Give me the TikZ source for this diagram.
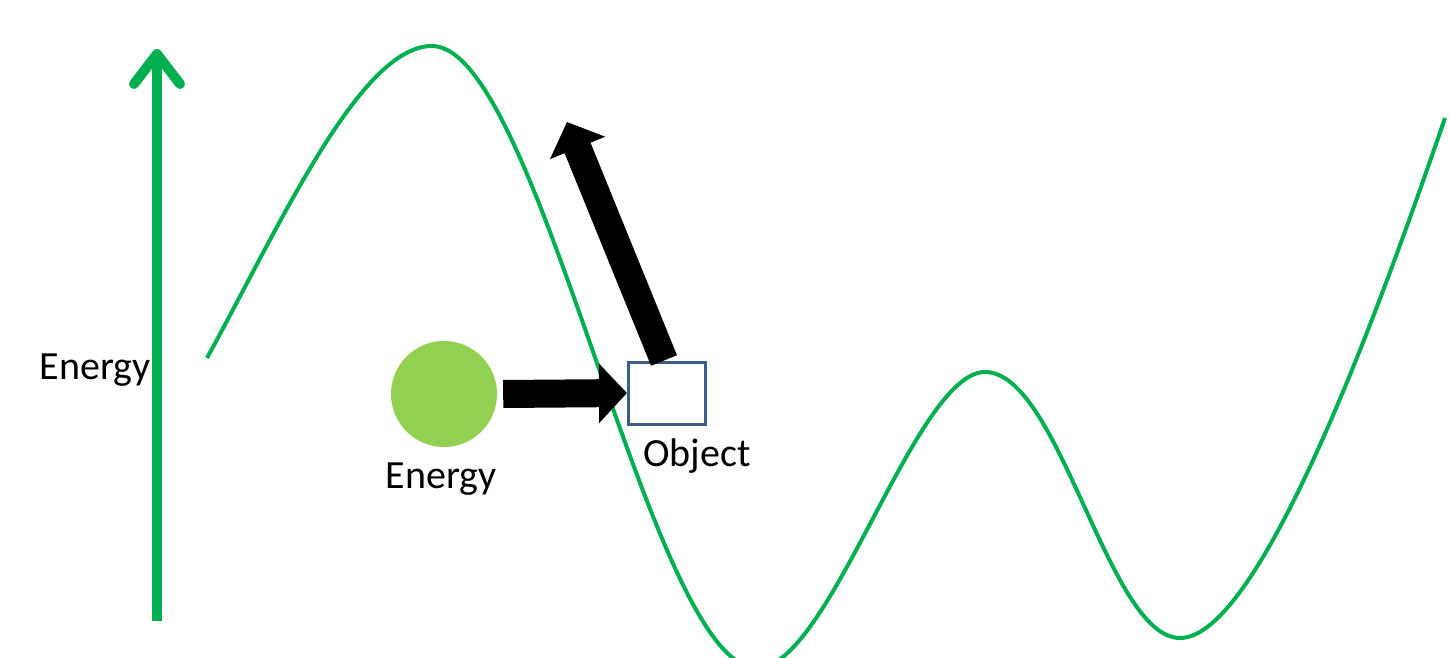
\documentclass[tikz,border=0pt]{standalone}
\usepackage{fontspec}
\setmainfont{Carlito}
\usetikzlibrary{arrows.meta,positioning,calc}

\definecolor{curvegreen}{RGB}{0,176,80}
\definecolor{ballgreen}{RGB}{146,208,80}
\definecolor{boxblue}{RGB}{60,92,138}

\begin{document}
\begin{tikzpicture}[
    x=1pt, y=-1pt,
    every node/.style={font=\fontsize{40}{46}\selectfont},
    box/.style={draw=boxblue, line width=3pt, minimum width=77pt,
                minimum height=62pt, inner sep=0pt},
    ball/.style={circle, fill=ballgreen, minimum size=106pt, inner sep=0pt},
    axis/.style={curvegreen, line width=10pt,
                 -{Straight Barb[length=30pt, width=46pt, round]}},
    push/.style={line width=28pt, -{Triangle[length=28pt, width=58pt]}},
    landscape/.style={curvegreen, line width=4pt},
  ]
  \useasboundingbox (0,0) rectangle (1449,658);
  % energy axis
  \coordinate (axbot) at (157,621);
  \coordinate (axtop) at (157,49);
  \draw[axis] (axbot) -- (axtop);
  \node (axlabel) at (95,370) {Energy};
  % energy landscape
  \draw[landscape] (207,358) .. controls (280,225) and (360,46) .. (432,46)
    .. controls (540,46) and (650,668) .. (757,668)
    .. controls (830,668) and (915,372) .. (985,372)
    .. controls (1060,372) and (1108,638) .. (1180,638)
    .. controls (1262,638) and (1385,292) .. (1445,118);
  % ball and object
  \node[ball] (energy) at (444,394) {};
  \node[below=12pt of energy, xshift=-3pt] (elabel) {Energy};
  \node[box] (obj) at (667,393) {};
  \node[below=10pt of obj, xshift=30pt] (olabel) {Object};
  \coordinate (kick) at (567,122);
  \draw[push] ([xshift=6pt]energy.east) -- (obj.west);
  \draw[push] ([xshift=-3pt]obj.north) -- (kick);
\end{tikzpicture}
\end{document}
